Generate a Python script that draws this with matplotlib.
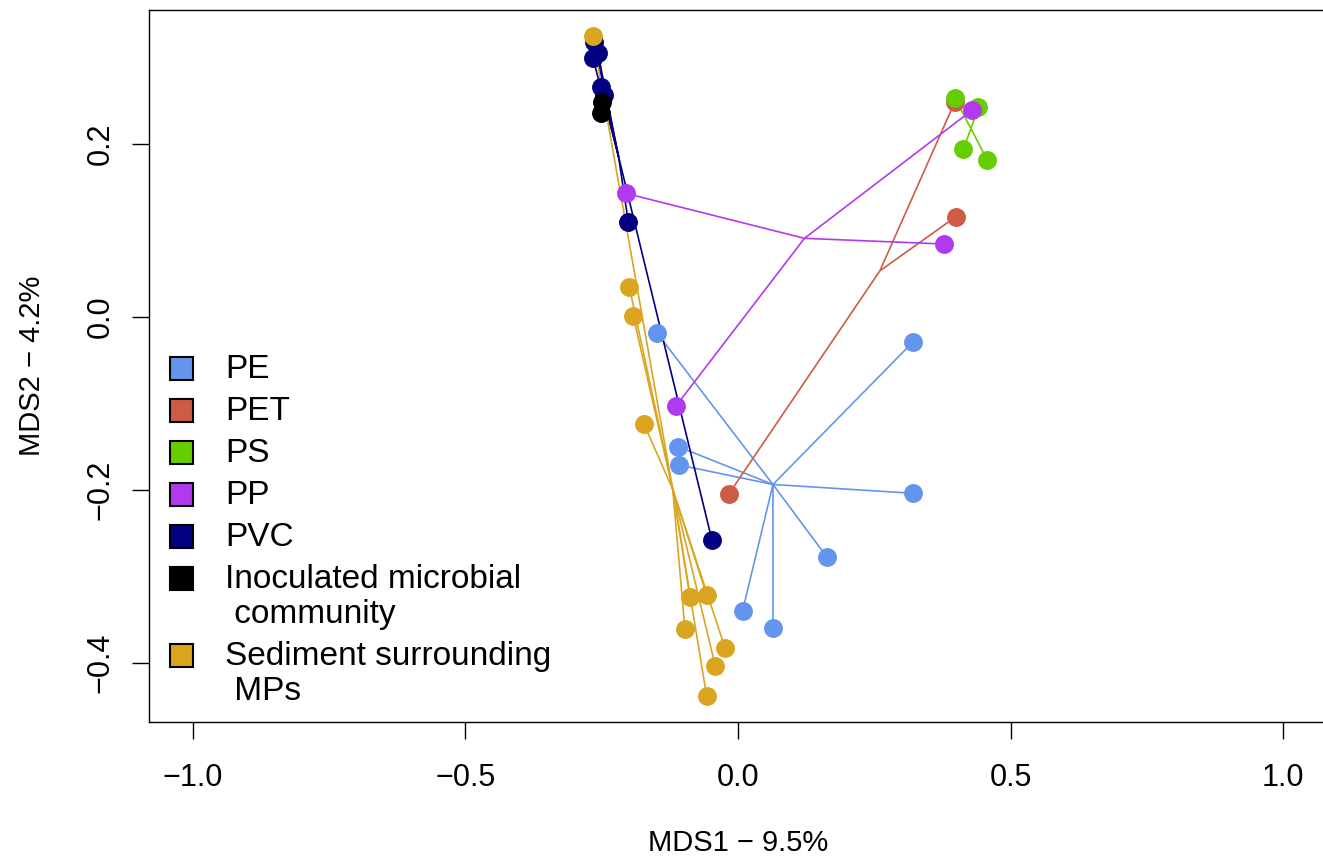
import matplotlib
matplotlib.use('Agg')
import matplotlib.pyplot as plt
from matplotlib.patches import Rectangle
import numpy as np

plt.rcParams['font.family'] = ['Liberation Sans', 'DejaVu Sans']

# ---------------- data ----------------
groups = ["PE", "PET", "PS", "PP", "PVC",
          "Inoculated microbial\n community", "Sediment surrounding\n MPs"]
colors = ["#6495ED", "#CD5B45", "#66CD00", "#B23AEE", "#000080", "#000000", "#DAA520"]

pe_x = [-0.148, 0.3215, -0.1095, -0.1076, 0.3215, 0.1627, 0.0086, 0.0642]
pe_y = [-0.0186, -0.0283, -0.1497, -0.1709, -0.2036, -0.2769, -0.3393, -0.3597]

pet_x = [-0.0171, 0.3998, 0.3979]
pet_y = [-0.2047, 0.1162, 0.2491]

ps_x = [0.3979, 0.4407, 0.4132, 0.4572]
ps_y = [0.2531, 0.2434, 0.1941, 0.1817]

pp_x = [-0.2059, 0.3778, -0.1137, 0.4297]
pp_y = [0.1432, 0.0846, -0.1027, 0.2395]

pvc_x = [-0.2641, -0.2567, -0.2659, -0.2512, -0.2457, -0.2012, -0.0477]
pvc_y = [0.3182, 0.3054, 0.2996, 0.2661, 0.2569, 0.1104, -0.2576]

inoc_x = [-0.2494, -0.2512]
inoc_y = [0.2491, 0.2357]

sed_x = [-0.2665, -0.1993, -0.1920, -0.1724, -0.0880, -0.0574, -0.0972, -0.0238, -0.0416, -0.0574]
sed_y = [0.3254, 0.0353, 0.0014, -0.1235, -0.3238, -0.3212, -0.3608, -0.3821, -0.4029, -0.4379]

xs = [pe_x, pet_x, ps_x, pp_x, pvc_x, inoc_x, sed_x]
ys = [pe_y, pet_y, ps_y, pp_y, pvc_y, inoc_y, sed_y]

x_ticks = [-1.0, -0.5, 0.0, 0.5, 1.0]
y_ticks = [-0.4, -0.2, 0.0, 0.2]
x_label = "MDS1 \u2212 9.5%"
y_label = "MDS2 \u2212 4.2%"

# ---------------- figure ----------------
W, H = 1323, 857
fig = plt.figure(figsize=(W / 100, H / 100), dpi=100)
ax_l, ax_r, ax_t, ax_b = 149, 1326.9, 10, 722.3
ax = fig.add_axes([ax_l / W, 1 - ax_b / H, (ax_r - ax_l) / W, (ax_b - ax_t) / H])
ax.set_xlim(-1.08, 1.08)
ax.set_ylim(-0.4683, 0.3551)

# spider lines
for gx, gy, c in zip(xs, ys, colors):
    gx = np.asarray(gx); gy = np.asarray(gy)
    cx, cy = gx.mean(), gy.mean()
    for px, py in zip(gx, gy):
        ax.plot([cx, px], [cy, py], color=c, lw=1.2, zorder=2, solid_capstyle='butt')

# points
for gx, gy, c in zip(xs, ys, colors):
    ax.plot(gx, gy, 'o', ms=13.6, color=c, mec='none', zorder=3)

# axes styling
for s in ax.spines.values():
    s.set_linewidth(1.0)
ax.set_xticks(x_ticks)
ax.set_xticklabels([f"{v:.1f}".replace('-', '\u2212') for v in x_ticks])
ax.set_yticks(y_ticks)
ax.set_yticklabels([f"{v:.1f}".replace('-', '\u2212') for v in y_ticks],
                   rotation=90, va='center')
ax.tick_params(axis='both', length=12, width=1.0, labelsize=22)
ax.tick_params(axis='x', pad=17)
ax.tick_params(axis='y', pad=12)

fig.text(738 / W, 1 - 843 / H, x_label, ha='center', va='center', fontsize=21)
fig.text(32 / W, 1 - 366 / H, y_label, ha='center', va='center', rotation=90, fontsize=21)

# legend (manual, R-style)
aw, ah = ax_r - ax_l, ax_b - ax_t
def to_ax(px, py):
    return (px - ax_l) / aw, (ax_b - py) / ah

sq = 23
y_px = 368
for lab, c in zip(groups, colors):
    lines = lab.split("\n")
    x0, y0 = to_ax(181 - sq / 2, y_px + sq / 2)
    ax.add_patch(Rectangle((x0, y0), sq / aw, sq / ah, transform=ax.transAxes,
                           facecolor=c, edgecolor='black', lw=1.5, zorder=5))
    for i, ln in enumerate(lines):
        tx, ty = to_ax(225, y_px + 2 + 35 * i)
        ax.text(tx, ty, ln, transform=ax.transAxes, ha='left', va='center',
                fontsize=24, zorder=5)
    y_px += 42 + 35 * (len(lines) - 1)

fig.savefig("out.png", dpi=100)
